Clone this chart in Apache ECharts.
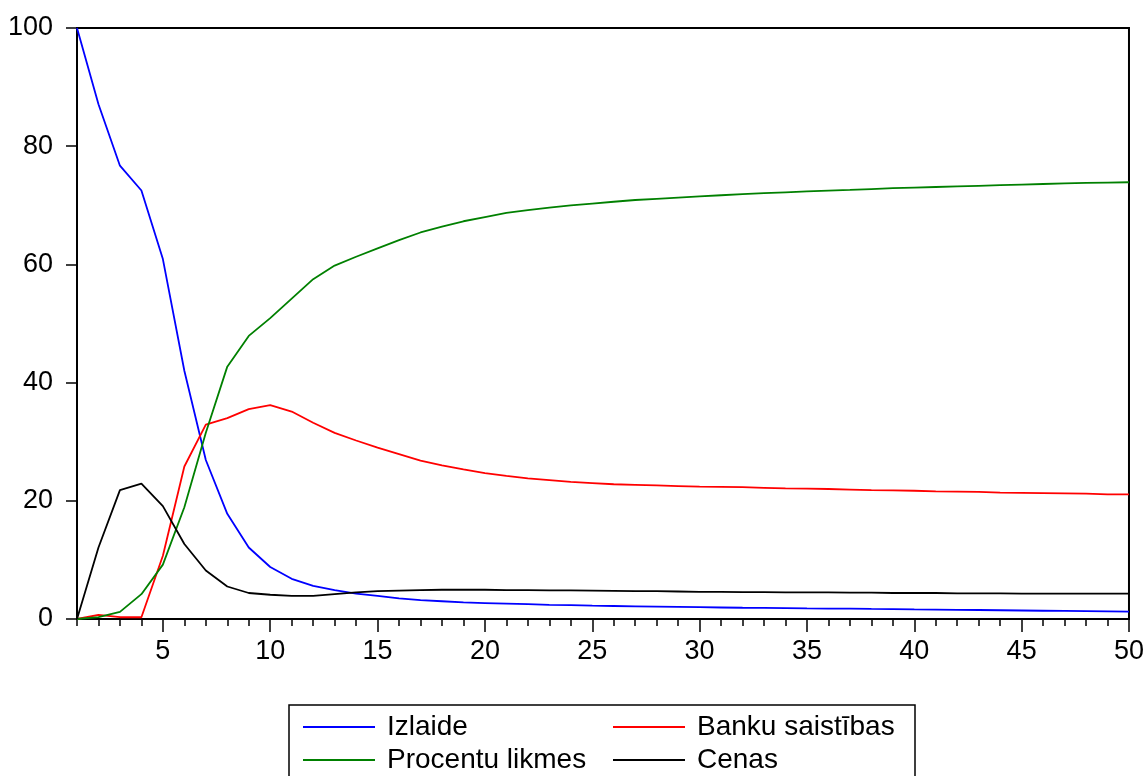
<!DOCTYPE html>
<html>
<head>
<meta charset="utf-8">
<title>Impulsa reakcijas</title>
<script src="https://cdn.jsdelivr.net/npm/echarts@6/dist/echarts.min.js"></script>
<style>
  html, body { margin: 0; padding: 0; background: #ffffff; }
  #chart { width: 1147px; height: 776px; }
</style>
</head>
<body>
<div id="chart"></div>
<script>
// Periods after the shock
const periods = [1, 2, 3, 4, 5, 6, 7, 8, 9, 10,
  11, 12, 13, 14, 15, 16, 17, 18, 19, 20,
  21, 22, 23, 24, 25, 26, 27, 28, 29, 30,
  31, 32, 33, 34, 35, 36, 37, 38, 39, 40,
  41, 42, 43, 44, 45, 46, 47, 48, 49, 50];

// Responses (per cent)
const izlaide = [100, 87.1, 76.7, 72.5, 60.9, 42.0, 26.9, 17.8, 12.1, 8.8,
  6.8, 5.6, 4.9, 4.3, 3.9, 3.5, 3.2, 3.0, 2.8, 2.7,
  2.6, 2.5, 2.4, 2.35, 2.25, 2.2, 2.15, 2.1, 2.05, 2.0,
  1.95, 1.9, 1.88, 1.85, 1.8, 1.77, 1.74, 1.7, 1.67, 1.63,
  1.6, 1.56, 1.52, 1.48, 1.44, 1.4, 1.36, 1.32, 1.28, 1.24];

const bankuSaistibas = [0, 0.7, 0.3, 0.3, 10.7, 25.8, 32.9, 34.0, 35.5, 36.2,
  35.1, 33.2, 31.5, 30.2, 29.0, 27.9, 26.8, 26.0, 25.3, 24.7,
  24.2, 23.8, 23.5, 23.2, 23.0, 22.8, 22.7, 22.6, 22.5, 22.4,
  22.35, 22.3, 22.2, 22.1, 22.05, 22.0, 21.9, 21.8, 21.75, 21.7,
  21.6, 21.55, 21.5, 21.4, 21.35, 21.3, 21.25, 21.2, 21.1, 21.1];

const procentuLikmes = [0, 0.3, 1.2, 4.2, 9.2, 18.9, 31.5, 42.7, 47.9, 50.9,
  54.2, 57.5, 59.8, 61.3, 62.7, 64.1, 65.4, 66.4, 67.3, 68.0,
  68.7, 69.2, 69.6, 70.0, 70.3, 70.6, 70.9, 71.1, 71.3, 71.5,
  71.7, 71.9, 72.05, 72.2, 72.35, 72.5, 72.6, 72.75, 72.9, 73.0,
  73.1, 73.2, 73.3, 73.4, 73.5, 73.6, 73.7, 73.8, 73.85, 73.9];

const cenas = [0, 12.1, 21.8, 22.9, 19.1, 12.7, 8.2, 5.5, 4.4, 4.1,
  3.9, 3.9, 4.2, 4.5, 4.7, 4.8, 4.9, 4.95, 4.95, 4.95,
  4.9, 4.9, 4.85, 4.85, 4.8, 4.75, 4.7, 4.7, 4.65, 4.6,
  4.6, 4.55, 4.55, 4.5, 4.5, 4.5, 4.45, 4.45, 4.4, 4.4,
  4.4, 4.35, 4.35, 4.35, 4.3, 4.3, 4.3, 4.3, 4.3, 4.3];

// Axis tick labels
const xTickLabels = [5, 10, 15, 20, 25, 30, 35, 40, 45, 50];
const yTickLabels = [0, 20, 40, 60, 80, 100];

const seriesNames = ['Izlaide', 'Banku saistības', 'Procentu likmes', 'Cenas'];
const seriesColors = ['#0000ff', '#ff0000', '#008000', '#000000'];
const seriesValues = [izlaide, bankuSaistibas, procentuLikmes, cenas];

const FONT = '"Liberation Sans", Arial, sans-serif';

const chart = echarts.init(document.getElementById('chart'), null, { renderer: 'canvas' });

const series = seriesNames.map((name, i) => ({
  name: name,
  type: 'line',
  xAxisIndex: 0,
  yAxisIndex: 0,
  symbol: 'none',
  smooth: false,
  lineStyle: { color: seriesColors[i], width: 1.8 },
  itemStyle: { color: seriesColors[i] },
  data: periods.map((p, k) => [p, seriesValues[i][k]]),
  z: 3
}));

const legendBase = {
  orient: 'vertical',
  top: 713,
  padding: 0,
  icon: 'rect',
  itemWidth: 72,
  itemHeight: 2,
  itemGap: 5,
  selectedMode: false,
  textStyle: {
    fontFamily: FONT,
    fontSize: 28,
    lineHeight: 28,
    color: '#000',
    padding: [0, 0, 0, 7]
  }
};

const option = {
  animation: false,
  backgroundColor: '#ffffff',
  grid: {
    left: 77, right: 18, top: 28, bottom: 157,
    show: true,
    borderColor: '#000',
    borderWidth: 2,
    backgroundColor: 'transparent'
  },
  legend: [
    Object.assign({}, legendBase, { left: 303, data: [seriesNames[0], seriesNames[2]] }),
    Object.assign({}, legendBase, { left: 613, data: [seriesNames[1], seriesNames[3]] })
  ],
  graphic: [{
    type: 'rect',
    shape: { x: 289, y: 705, width: 626, height: 100 },
    style: { fill: 'none', stroke: '#000', lineWidth: 1.5 },
    silent: true
  }],
  xAxis: [{
    type: 'value',
    min: 1,
    max: 50,
    axisLine: { show: true, onZero: false, lineStyle: { color: '#000', width: 2 } },
    axisTick: {
      show: true, inside: false, length: 13,
      customValues: xTickLabels,
      lineStyle: { color: '#000', width: 1.5 }
    },
    axisLabel: {
      show: true,
      customValues: xTickLabels,
      margin: 19,
      fontFamily: FONT,
      fontSize: 27,
      color: '#000'
    },
    splitLine: { show: false }
  }, {
    // integer-period minor ticks
    type: 'value',
    position: 'bottom',
    min: 1,
    max: 50,
    axisLine: { show: false },
    axisTick: {
      show: true, inside: false, length: 7,
      customValues: periods,
      lineStyle: { color: '#000', width: 1.5 }
    },
    axisLabel: { show: false },
    splitLine: { show: false }
  }],
  yAxis: {
    type: 'value',
    min: 0,
    max: 100,
    interval: 20,
    axisLine: { show: true, lineStyle: { color: '#000', width: 2 } },
    axisTick: { show: true, inside: false, length: 11, lineStyle: { color: '#000', width: 1.5 } },
    axisLabel: {
      margin: 24,
      fontFamily: FONT,
      fontSize: 27,
      color: '#000',
      formatter: (v) => (yTickLabels.indexOf(v) >= 0 ? String(v) : '')
    },
    splitLine: { show: false }
  },
  series: series
};

chart.setOption(option);
</script>
</body>
</html>
